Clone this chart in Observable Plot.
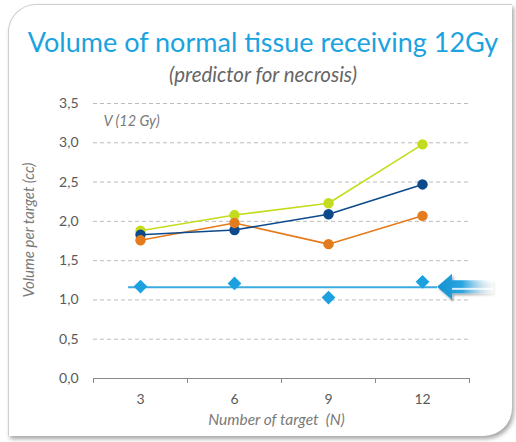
<!DOCTYPE html>
<html>
<head>
<meta charset="utf-8">
<script src="https://cdn.jsdelivr.net/npm/d3@7"></script>
<script src="https://cdn.jsdelivr.net/npm/@observablehq/plot@0.6"></script>
<style>
  html, body { margin: 0; padding: 0; background: #ffffff; }
  #wrap { position: relative; width: 516px; height: 442px; overflow: hidden; font-family: Lato, "Open Sans", sans-serif; }
  #card { position: absolute; left: 8px; top: 4px; width: 503px; height: 431px; background: #fff;
          border-left: 1px solid #cfcfcf; border-top: 1px solid #cfcfcf;
          border-top-left-radius: 28px; border-bottom-right-radius: 28px;
          box-shadow: 2px 3px 4px rgba(0,0,0,0.35); }
  #title { position: absolute; left: 0; width: 526px; top: 25px; text-align: center; color: #1aa3e0;
           font-size: 27px; line-height: 34px; white-space: nowrap; }
  #subtitle { position: absolute; left: 0; width: 526px; top: 62px; text-align: center; color: #666666;
           font-size: 20.5px; line-height: 24px; font-style: italic; white-space: nowrap; }
  #chart { position: absolute; left: 0; top: 90px; }
  #deco { position: absolute; left: 0; top: 90px; pointer-events: none; }
</style>
</head>
<body>
<div id="wrap">
  <div id="card"></div>
  <div id="title">Volume of normal tissue receiving 12Gy</div>
  <div id="subtitle">(predictor for necrosis)</div>
  <div id="chart"></div>
  <svg id="deco" width="516" height="340"></svg>
</div>
<script>
// ---- data ----
const targets = [3, 6, 9, 12];
const seriesLime = [1.88, 2.08, 2.23, 2.98];
const seriesNavy = [1.83, 1.89, 2.09, 2.47];
const seriesOrange = [1.76, 1.98, 1.71, 2.07];
const seriesDiamond = [1.17, 1.21, 1.03, 1.23];
const refLevel = 1.16;
const refLineFrom = 2.62;
const refLineTo = 12.48;
const yTicks = [0, 0.5, 1, 1.5, 2, 2.5, 3, 3.5];
const categoryEdges = [1.5, 4.5, 7.5, 10.5, 13.5];
const yTitle = "Volume per target (cc)";
const xTitle = "Number of target  (N)";
const innerLabel = "V (12 Gy)";

const colLime = "#c4dc1e", colNavy = "#0c4a8c", colOrange = "#e47b1c", colBlue = "#1ba1df";
const toRows = (vals) => targets.map((t, i) => ({x: t, y: vals[i]}));
const lime = toRows(seriesLime), navy = toRows(seriesNavy), orange = toRows(seriesOrange), diam = toRows(seriesDiamond);
const fmt = (d) => d.toFixed(1).replace(".", ",");
const shadow = "drop-shadow(1px 2px 1.2px rgba(0,0,0,0.22))";

const plot = Plot.plot({
  width: 516, height: 340,
  marginTop: 13, marginBottom: 52, marginLeft: 93, marginRight: 47,
  style: { fontFamily: "Lato, 'Open Sans', sans-serif", fontSize: "14px", color: "#595959", background: "transparent" },
  x: { type: "linear", domain: [1.5, 13.5] },
  y: { domain: [0, 3.5] },
  marks: [
    Plot.gridY(yTicks.filter(d => d > 0), { stroke: "#bdbdbd", strokeOpacity: 1, strokeDasharray: "4,3" }),
    Plot.axisY(yTicks, { tickSize: 0, tickPadding: 15, tickFormat: fmt, label: null, fill: "#595959" }),
    Plot.axisX(categoryEdges, { tickSize: 5, tickFormat: () => "", label: null, stroke: "#8a8a8a" }),
    Plot.axisX(targets, { tickSize: 0, tickPadding: 16, label: null, fill: "#595959" }),
    Plot.ruleY([0], { stroke: "#8a8a8a" }),
    Plot.ruleY([refLevel], { x1: refLineFrom, x2: refLineTo, stroke: "#3aaae0", strokeWidth: 2 }),
    Plot.line(orange, { x: "x", y: "y", stroke: colOrange, strokeWidth: 1.6, style: {filter: shadow} }),
    Plot.line(navy, { x: "x", y: "y", stroke: colNavy, strokeWidth: 1.6, style: {filter: shadow} }),
    Plot.line(lime, { x: "x", y: "y", stroke: colLime, strokeWidth: 1.6, style: {filter: shadow} }),
    Plot.dot(lime, { x: "x", y: "y", r: 5.2, fill: colLime }),
    Plot.dot(navy, { x: "x", y: "y", r: 5.2, fill: colNavy }),
    Plot.dot(orange, { x: "x", y: "y", r: 5.2, fill: colOrange }),
    Plot.dot(diam, { x: "x", y: "y", r: 6.2, symbol: "diamond2", fill: colBlue }),
    Plot.text([innerLabel], { frameAnchor: "top-left", dx: 10, dy: 12, fontStyle: "italic", fill: "#7a7a7a", fontSize: 14.5 }),
    Plot.text([xTitle], { frameAnchor: "bottom", dx: -5, dy: 46, fontStyle: "italic", fill: "#7a7a7a", fontSize: 15.5 }),
    Plot.text([yTitle], { frameAnchor: "left", textAnchor: "middle", dx: -64, dy: -11, rotate: -90, fontStyle: "italic", fill: "#7a7a7a", fontSize: 15 })
  ]
});
document.getElementById("chart").appendChild(plot);

// decorative arrow pointing to the reference level
const yS = plot.scale("y"), xS = plot.scale("x");
const ay = yS.apply(refLevel);
const ax = xS.apply(refLineTo);
const deco = d3.select("#deco");
const defs = deco.append("defs");
const g = defs.append("linearGradient").attr("id", "ag").attr("x1", 0).attr("x2", 1).attr("y1", 0).attr("y2", 0);
g.append("stop").attr("offset", "0%").attr("stop-color", "#1590d0");
g.append("stop").attr("offset", "45%").attr("stop-color", "#2aa6e2");
g.append("stop").attr("offset", "100%").attr("stop-color", "#ffffff").attr("stop-opacity", 0.2);
const f = defs.append("filter").attr("id", "sh").attr("x", "-20%").attr("y", "-40%").attr("width", "140%").attr("height", "180%");
f.append("feDropShadow").attr("dx", 1.5).attr("dy", 2).attr("stdDeviation", 1.2).attr("flood-color", "#000").attr("flood-opacity", 0.35);
const hw = 13, sw = 6.5, hl = 15, len = 56;
deco.append("path")
  .attr("d", `M${ax},${ay} L${ax+hl},${ay-hw} L${ax+hl},${ay-sw} L${ax+len},${ay-sw} L${ax+len},${ay+sw} L${ax+hl},${ay+sw} L${ax+hl},${ay+hw} Z`)
  .attr("fill", "url(#ag)").attr("filter", "url(#sh)");
deco.append("rect").attr("x", ax + hl).attr("y", ay + 1).attr("width", len - hl).attr("height", 2).attr("fill", "#ffffff").attr("opacity", 0.8);
</script>
</body>
</html>
